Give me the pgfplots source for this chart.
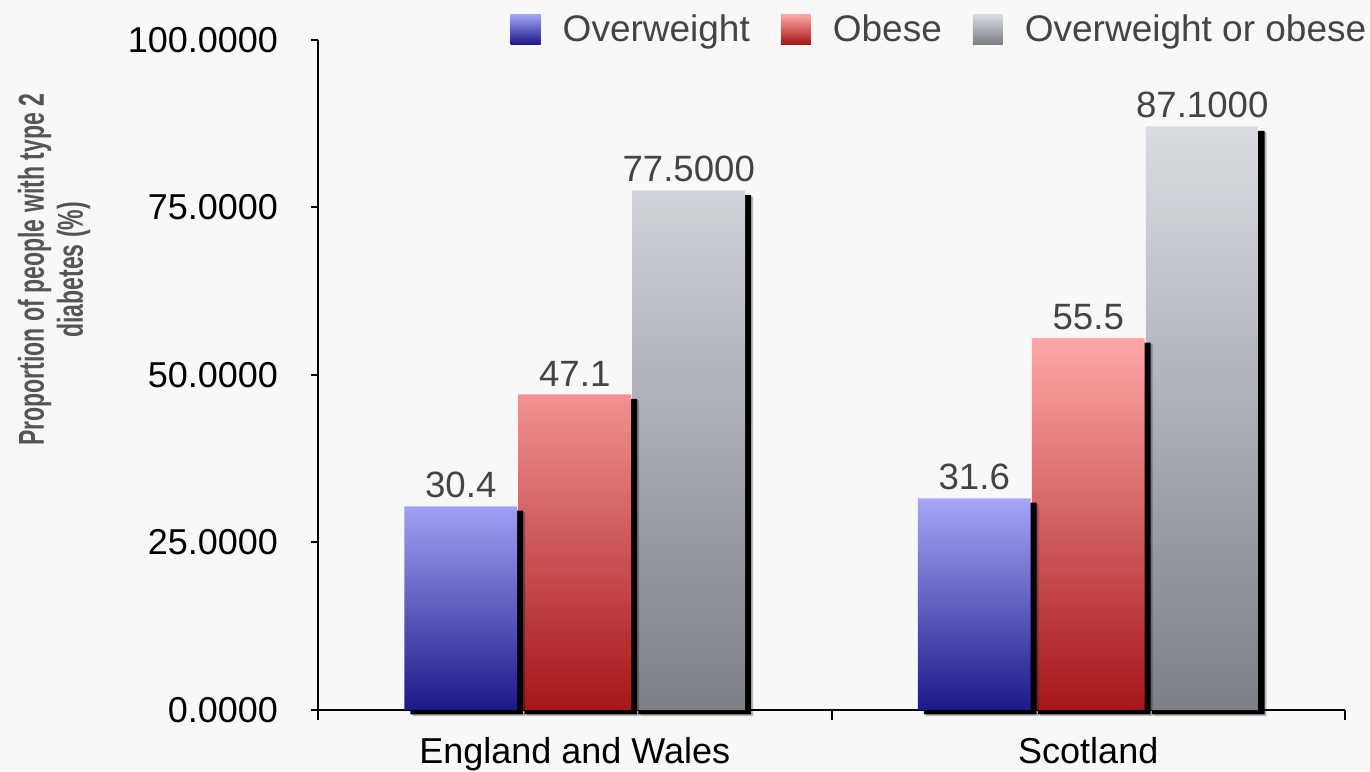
\documentclass[border=0pt]{standalone}
\usepackage{fontspec}
\setmainfont{Liberation Sans}
\usepackage{graphicx}
\usepackage{pgfplots}
\usepackage{pgfplotstable}
\pgfplotsset{compat=1.18}
\definecolor{bgcol}{HTML}{F8F8F8}
\definecolor{blueTop}{HTML}{A6A6F7}
\definecolor{blueBot}{HTML}{1C1888}
\definecolor{redTop}{HTML}{FFA8A8}
\definecolor{redBot}{HTML}{A51618}
\definecolor{grayTop}{HTML}{D9DCE1}
\definecolor{grayBot}{HTML}{7C7F86}
\definecolor{labcol}{HTML}{444444}
\definecolor{ylabcol}{HTML}{555555}

\pgfplotstableread{
x y lab
0 30.4 30.4
1 31.6 31.6
}\overweight
\pgfplotstableread{
x y lab
0 47.1 47.1
1 55.5 55.5
}\obese
\pgfplotstableread{
x y lab
0 77.5 77.5000
1 87.1 87.1000
}\either

\begin{document}
\begin{tikzpicture}
\fill[bgcol] (0pt,0pt) rectangle (685pt,385.5pt);
\begin{axis}[
  at={(159pt,30.5pt)}, anchor=south west,
  scale only axis, width=513.5pt, height=335pt,
  xmin=-0.5, xmax=1.5, ymin=0, ymax=100,
  clip=false,
  axis x line*=bottom, axis y line*=left,
  axis line style={line width=1pt, black},
  tick align=outside,
  ytick={0,25,50,75,100},
  yticklabel style={/pgf/number format/fixed, /pgf/number format/fixed zerofill, /pgf/number format/precision=4, /pgf/number format/assume math mode=true, xshift=-13pt},
  major tick length=3.5pt,
  every tick/.style={black, line width=1pt},
  xtick={0,1},
  xticklabels={England and Wales, Scotland},
  major x tick style={draw=none},
  minor xtick={-0.5,0.5,1.5},
  minor tick length=5pt,
  minor x tick style={black, line width=1pt},
  tick label style={font=\fontsize{18}{20}\selectfont, text=black},
  xticklabel style={yshift=-6.5pt},
  ylabel={\scalebox{0.64}[1]{Proportion of people with type 2}\\\scalebox{0.64}[1]{diabetes (\%)}},
  ylabel style={at={(axis description cs:-0.257,0.657)}, anchor=center, align=center,
    font=\bfseries\fontsize{18}{19.5}\selectfont, text=ylabcol},
  ybar, bar width=0.22,
  point meta=explicit symbolic,
  nodes near coords style={font=\fontsize{18.3}{20}\selectfont, text=labcol, inner sep=4pt},
  reverse legend,
  legend columns=3,
  legend style={at={(1.025,1.016)}, anchor=east, draw=none, fill=none,
    font=\fontsize{18.5}{20}\selectfont, text=labcol, inner sep=0pt,
    /tikz/every even column/.append style={column sep=13.5pt},
    /tikz/every odd column/.append style={column sep=9pt}},
]
% shadows and bars, drawn right to left so each shadow lies over the bar to its right
\addplot[forget plot, draw=none, fill=black, opacity=0.25, bar shift=0.222, xshift=4pt, yshift=-3pt]
  table[x=x, y=y] {\either};
\addplot[forget plot, draw=none, fill=black, bar shift=0.222, xshift=3pt, yshift=-2.2pt]
  table[x=x, y=y] {\either};
\addplot[draw=none, bar shift=0.222, top color=grayTop, bottom color=grayBot, nodes near coords,
  legend image code/.code={\shade[top color=grayTop, bottom color=grayBot] (0pt,-7.5pt) rectangle (15pt,7.5pt);}]
  table[x=x, y=y, meta=lab] {\either};
\addlegendentry{Overweight or obese}
\addplot[forget plot, draw=none, fill=black, opacity=0.25, bar shift=0, xshift=4pt, yshift=-3pt]
  table[x=x, y=y] {\obese};
\addplot[forget plot, draw=none, fill=black, bar shift=0, xshift=3pt, yshift=-2.2pt]
  table[x=x, y=y] {\obese};
\addplot[draw=none, bar shift=0, top color=redTop, bottom color=redBot, nodes near coords,
  legend image code/.code={\shade[top color=redTop, bottom color=redBot] (0pt,-7.5pt) rectangle (15pt,7.5pt);}]
  table[x=x, y=y, meta=lab] {\obese};
\addlegendentry{Obese}
\addplot[forget plot, draw=none, fill=black, opacity=0.25, bar shift=-0.222, xshift=4pt, yshift=-3pt]
  table[x=x, y=y] {\overweight};
\addplot[forget plot, draw=none, fill=black, bar shift=-0.222, xshift=3pt, yshift=-2.2pt]
  table[x=x, y=y] {\overweight};
\addplot[draw=none, bar shift=-0.222, top color=blueTop, bottom color=blueBot, nodes near coords,
  legend image code/.code={\shade[top color=blueTop, bottom color=blueBot] (0pt,-7.5pt) rectangle (15pt,7.5pt);}]
  table[x=x, y=y, meta=lab] {\overweight};
\addlegendentry{Overweight}
\end{axis}
\pgfresetboundingbox
\useasboundingbox (0pt,0pt) rectangle (685pt,385.5pt);
\end{tikzpicture}
\end{document}
